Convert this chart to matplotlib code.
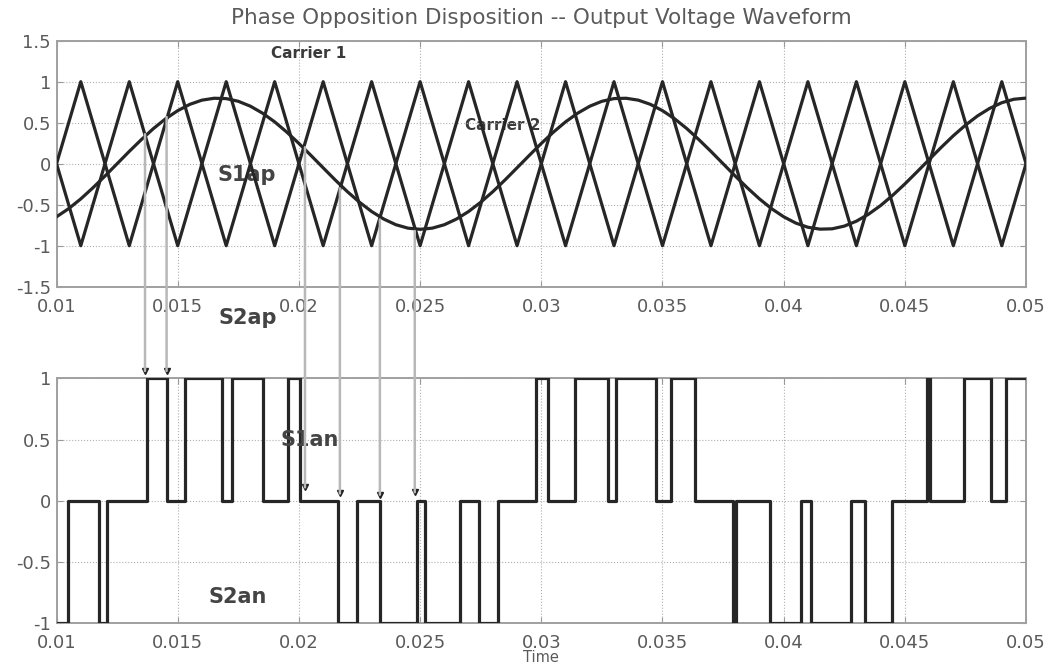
import numpy as np
import matplotlib.pyplot as plt
from matplotlib.patches import ConnectionPatch

## carriers (vertices of the two opposite triangle waves)
carrier_t = [0.010, 0.011, 0.013, 0.015, 0.017, 0.019, 0.021, 0.023, 0.025, 0.027, 0.029,
             0.031, 0.033, 0.035, 0.037, 0.039, 0.041, 0.043, 0.045, 0.047, 0.049, 0.050]
carrier1 = [0, 1, -1, 1, -1, 1, -1, 1, -1, 1, -1, 1, -1, 1, -1, 1, -1, 1, -1, 1, -1, 0]
carrier2 = [0, -1, 1, -1, 1, -1, 1, -1, 1, -1, 1, -1, 1, -1, 1, -1, 1, -1, 1, -1, 1, 0]

## reference (modulating) wave, read every 0.5 ms
ref_t = [0.0100, 0.0105, 0.0110, 0.0115, 0.0120, 0.0125, 0.0130, 0.0135, 0.0140, 0.0145,
         0.0150, 0.0155, 0.0160, 0.0165, 0.0170, 0.0175, 0.0180, 0.0185, 0.0190, 0.0195,
         0.0200, 0.0205, 0.0210, 0.0215, 0.0220, 0.0225, 0.0230, 0.0235, 0.0240, 0.0245,
         0.0250, 0.0255, 0.0260, 0.0265, 0.0270, 0.0275, 0.0280, 0.0285, 0.0290, 0.0295,
         0.0300, 0.0305, 0.0310, 0.0315, 0.0320, 0.0325, 0.0330, 0.0335, 0.0340, 0.0345,
         0.0350, 0.0355, 0.0360, 0.0365, 0.0370, 0.0375, 0.0380, 0.0385, 0.0390, 0.0395,
         0.0400, 0.0405, 0.0410, 0.0415, 0.0420, 0.0425, 0.0430, 0.0435, 0.0440, 0.0445,
         0.0450, 0.0455, 0.0460, 0.0465, 0.0470, 0.0475, 0.0480, 0.0485, 0.0490, 0.0495,
         0.0500]
ref_v = [-0.647, -0.548, -0.429, -0.294, -0.150, 0.000, 0.150, 0.294, 0.429, 0.548,
         0.647, 0.724, 0.775, 0.798, 0.794, 0.761, 0.701, 0.616, 0.510, 0.385,
         0.247, 0.100, -0.050, -0.199, -0.341, -0.470, -0.583, -0.675, -0.744, -0.786,
         -0.800, -0.786, -0.744, -0.675, -0.583, -0.470, -0.341, -0.199, -0.050, 0.100,
         0.247, 0.385, 0.510, 0.616, 0.701, 0.761, 0.794, 0.798, 0.775, 0.724,
         0.647, 0.548, 0.429, 0.294, 0.150, 0.000, -0.150, -0.294, -0.429, -0.548,
         -0.647, -0.724, -0.775, -0.798, -0.794, -0.761, -0.701, -0.616, -0.510, -0.385,
         -0.247, -0.100, 0.050, 0.199, 0.341, 0.470, 0.583, 0.675, 0.744, 0.786,
         0.800]

## output voltage switching instants and levels
pwm_t = [0.0100, 0.01049, 0.01175, 0.01210, 0.01372, 0.01454, 0.01530, 0.01681, 0.01722,
         0.01853, 0.01956, 0.02004, 0.02162, 0.02238, 0.02334, 0.02488, 0.02520, 0.02664,
         0.02742, 0.02822, 0.02980, 0.03028, 0.03138, 0.03275, 0.03310, 0.03475, 0.03537,
         0.03633, 0.03790, 0.03802, 0.03942, 0.04073, 0.04114, 0.04279, 0.04334, 0.04447,
         0.04590, 0.04604, 0.04746, 0.04857, 0.04918, 0.0500]
pwm_v = [-1, 0, -1, 0, 1, 0, 1, 0, 1, 0, 1, 0, -1, 0, -1, 0, -1, 0, -1, 0, 1, 0, 1, 0, 1, 0, 1,
         0, -1, 0, -1, 0, -1, 0, -1, 0, 1, 0, 1, 0, 1, 1]

## guide lines from crossings to the output
conn_t = [0.01365, 0.01454, 0.02025, 0.02169, 0.02334, 0.02478]
conn_top = [0.36, 0.57, 0.20, -0.30, -0.68, -0.82]
conn_bot = [1.06, 1.06, 0.11, 0.06, 0.05, 0.07]

xticks = [0.01, 0.015, 0.02, 0.025, 0.03, 0.035, 0.04, 0.045, 0.05]
xticklabels = ["0.01", "0.015", "0.02", "0.025", "0.03", "0.035", "0.04", "0.045", "0.05"]

line_c = "#262626"
text_c = "#5a5a5a"

fig = plt.figure(figsize=(10.53, 6.66), dpi=100)
ax1 = fig.add_axes([0.0537, 0.5695, 0.9207, 0.3694])
ax2 = fig.add_axes([0.0537, 0.0641, 0.9207, 0.3679])

ax1.plot(carrier_t, carrier1, color=line_c, lw=2.3, zorder=3)
ax1.plot(carrier_t, carrier2, color=line_c, lw=2.3, zorder=3)
ax1.plot(ref_t, ref_v, color=line_c, lw=2.3, zorder=3)
ax1.set_xlim(0.01, 0.05)
ax1.set_ylim(-1.5, 1.5)
ax1.set_yticks([-1.5, -1, -0.5, 0, 0.5, 1, 1.5])
ax1.set_yticklabels(["-1.5", "-1", "-0.5", "0", "0.5", "1", "1.5"])

ax2.step(pwm_t, pwm_v, where="post", color=line_c, lw=2.3, zorder=3)
ax2.set_xlim(0.01, 0.05)
ax2.set_ylim(-1, 1)
ax2.set_yticks([-1, -0.5, 0, 0.5, 1])
ax2.set_yticklabels(["-1", "-0.5", "0", "0.5", "1"])

for ax in [ax1, ax2]:
    ax.set_xticks(xticks)
    ax.set_xticklabels(xticklabels)
    ax.tick_params(direction="in", top=True, right=True, length=4, width=0.8,
                   color="#999999", labelsize=13, labelcolor=text_c)
    ax.tick_params(axis="y", pad=4)
    ax.grid(True, linestyle=":", color="#b0b0b0", linewidth=0.8)
    for s in ax.spines.values():
        s.set_color("#a0a0a0")
        s.set_linewidth(1.4)
ax1.tick_params(axis="x", pad=8)
ax2.tick_params(axis="x", pad=7.5)

## labels inside the plots
ax1.text(0.02041, 1.34, "Carrier 1", fontsize=11, fontweight="bold", color="#3a3a3a",
         ha="center", va="center")
ax1.text(0.02841, 0.46, "Carrier 2", fontsize=11, fontweight="bold", color="#3a3a3a",
         ha="center", va="center", zorder=1)
ax1.text(0.01786, -0.14, "S1ap", fontsize=15, fontweight="bold", color="#444444",
         ha="center", va="center", zorder=2)
ax2.text(0.02046, 0.50, "S1an", fontsize=15, fontweight="bold", color="#444444",
         ha="center", va="center")
ax2.text(0.01748, -0.785, "S2an", fontsize=15, fontweight="bold", color="#444444",
         ha="center", va="center")
fig.text(248 / 1053, 1 - 318 / 666, "S2ap", fontsize=15, fontweight="bold", color="#444444",
         ha="center", va="center")

## guide lines between the two plots
for i in range(len(conn_t)):
    con = ConnectionPatch(xyA=(conn_t[i], conn_top[i]), coordsA=ax1.transData,
                          xyB=(conn_t[i], conn_bot[i]), coordsB=ax2.transData,
                          color="#b8b8b8", lw=1.8)
    fig.add_artist(con)
    ax2.plot(conn_t[i], conn_bot[i], marker="v", color="#222222", ms=5, clip_on=False, zorder=5)

fig.text(0.514, 1 - 18 / 666, "Phase Opposition Disposition -- Output Voltage Waveform",
         fontsize=15.5, color=text_c, ha="center", va="center")
fig.text(0.514, 0.5 / 666, "Time", fontsize=10.5, color=text_c, ha="center", va="bottom")

plt.savefig("out.png", dpi=100)
plt.close()
